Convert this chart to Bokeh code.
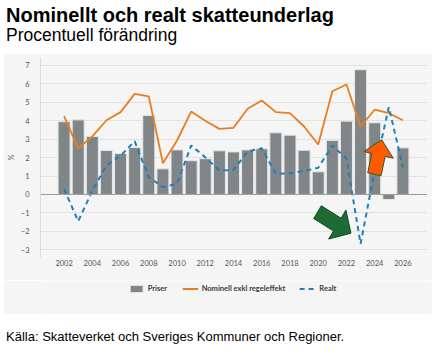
import math
from bokeh.plotting import figure
from bokeh.models import Range1d, FixedTicker, Legend, LegendItem, Span, Div
from bokeh.layouts import column
from bokeh.embed import file_html
from bokeh.resources import INLINE

# ---------------- data ----------------
TITLE = "Nominellt och realt skatteunderlag"
SUBTITLE = "Procentuell förändring"
SOURCE = "Källa: Skatteverket och Sveriges Kommuner och Regioner."
Y_LABEL = "%"

years = list(range(2002, 2027))
priser = [3.95, 4.05, 3.15, 2.39, 2.22, 2.55, 4.29, 1.39, 2.42, 1.83, 1.94, 2.37, 2.31,
          2.42, 2.48, 3.35, 3.22, 2.40, 1.23, 2.93, 3.98, 6.77, 3.89, -0.27, 2.53]
nominell = [4.25, 2.50, 3.15, 4.03, 4.47, 5.46, 5.32, 1.70, 2.93, 4.50, 4.00, 3.56, 3.62,
            4.65, 5.10, 4.47, 4.42, 3.69, 2.71, 5.60, 5.97, 3.69, 4.60, 4.41, 4.03]
realt = [0.30, -1.45, 0.20, 1.57, 2.10, 2.89, 0.94, 0.40, 0.58, 2.66, 2.02, 1.30, 1.33,
         2.33, 2.51, 1.12, 1.15, 1.27, 1.45, 2.66, 1.94, -2.68, 1.30, 4.74, 1.48]
series_labels = ["Priser", "Nominell exkl regeleffekt", "Realt"]
x_ticks = list(range(2002, 2027, 2))
y_ticks = list(range(-3, 8))

# annotation arrows (tail -> tip, in data units)
green_arrow = ((2019.95, -0.96), (2022.32, -2.10))
orange_arrow = ((2023.98, 1.10), (2024.50, 2.97))

# ---------------- style / layout ----------------
PANEL = "#f5f5f5"
BAR = "#808587"
ORANGE = "#ea7d1e"
BLUE = "#1f80b6"
TEXT = "#555555"
FONT = "Lato"

FIG_W, FIG_H = 429, 227
MIN_L, MIN_R, MIN_T, MIN_B = 26, 5, 4, 23
X0, X1 = 2000.33, 2027.74
Y0, Y1 = -3.42, 7.434

p = figure(width=FIG_W, height=FIG_H, x_range=Range1d(X0, X1), y_range=Range1d(Y0, Y1),
           output_backend="svg", toolbar_location=None,
           min_border_left=MIN_L, min_border_right=MIN_R,
           min_border_top=MIN_T, min_border_bottom=MIN_B, margin=(0, 0, 0, 3))
p.background_fill_color = PANEL
p.border_fill_color = PANEL
p.outline_line_color = None

p.xgrid.grid_line_color = None
p.ygrid.grid_line_color = "#e2e2e2"
p.ygrid.grid_line_width = 1

p.xaxis.ticker = FixedTicker(ticks=x_ticks, minor_ticks=[])
p.yaxis.ticker = FixedTicker(ticks=y_ticks, minor_ticks=[])
for ax in (p.xaxis, p.yaxis):
    ax.major_tick_line_color = None
    ax.minor_tick_line_color = None
    ax.major_label_text_font = FONT
    ax.major_label_text_font_size = "7.5px"
    ax.major_label_text_color = TEXT
p.xaxis.axis_line_color = None
p.xaxis.major_tick_out = 0
p.xaxis.major_tick_in = 0
p.xaxis.minor_tick_out = 0
p.xaxis.major_label_standoff = 2
p.yaxis.axis_line_color = "#dcdcdc"
p.yaxis.major_label_standoff = 5
p.yaxis.axis_label = Y_LABEL
p.yaxis.axis_label_text_font = FONT
p.yaxis.axis_label_text_font_size = "7.5px"
p.yaxis.axis_label_text_font_style = "normal"
p.yaxis.axis_label_text_color = TEXT
p.yaxis.axis_label_standoff = 2

p.vbar(x=years, top=priser, bottom=0, width=0.85, fill_color=BAR,
       line_color="#e6e6e6", line_width=1)
p.add_layout(Span(location=0, dimension="width", line_color="#9c9c9c", line_width=1))
p.line(years, nominell, line_color=ORANGE, line_width=1.8)
p.line(years, realt, line_color=BLUE, line_width=2, line_dash="5 4")

# block arrows: geometry computed in pixel space, converted to data units
frame_w = FIG_W - MIN_L - MIN_R
frame_h = FIG_H - MIN_T - MIN_B
sx = frame_w / (X1 - X0)
sy = frame_h / (Y1 - Y0)


def block_arrow(tail, tip, shaft_w=14.5, head_w=32, head_len=16):
    tx, ty = tail[0] * sx, tail[1] * sy
    hx, hy = tip[0] * sx, tip[1] * sy
    dx, dy = hx - tx, hy - ty
    L = math.hypot(dx, dy)
    ux, uy = dx / L, dy / L
    nx, ny = -uy, ux
    bx, by = hx - ux * head_len, hy - uy * head_len
    pts = [(tx + nx * shaft_w / 2, ty + ny * shaft_w / 2),
           (bx + nx * shaft_w / 2, by + ny * shaft_w / 2),
           (bx + nx * head_w / 2, by + ny * head_w / 2),
           (hx, hy),
           (bx - nx * head_w / 2, by - ny * head_w / 2),
           (bx - nx * shaft_w / 2, by - ny * shaft_w / 2),
           (tx - nx * shaft_w / 2, ty - ny * shaft_w / 2)]
    return [q[0] / sx for q in pts], [q[1] / sy for q in pts]


gx, gy = block_arrow(*green_arrow, shaft_w=15, head_w=34, head_len=16.5)
p.patch(gx, gy, fill_color="#1f6b34", line_color="#134a22", line_width=1)
ox, oy = block_arrow(*orange_arrow, shaft_w=14, head_w=31, head_len=15.5)
p.patch(ox, oy, fill_color="#ff5a00", line_color="#2f5a22", line_width=1)

# ---------------- legend strip (same panel colour, directly below) ----------------
LG_H = 34
lg = figure(width=FIG_W, height=LG_H, x_range=Range1d(0, 1), y_range=Range1d(0, 1),
            output_backend="svg", toolbar_location=None,
            min_border_left=MIN_L, min_border_right=MIN_R, min_border_top=0,
            min_border_bottom=0, margin=(0, 0, 0, 3))
lg.background_fill_color = PANEL
lg.border_fill_color = PANEL
lg.outline_line_color = None
lg.axis.visible = False
lg.grid.visible = False
# key renderers: one sample each, placed outside the visible range
k_bar = lg.vbar(x=[5], top=[6], bottom=5, width=0.85, fill_color=BAR,
                line_color="#e6e6e6", line_width=1)
k_nom = lg.line(x=[5, 6], y=[5, 5], line_color=ORANGE, line_width=1.8)
k_real = lg.line(x=[5, 6], y=[5, 5], line_color=BLUE, line_width=2, line_dash="5 4")

legend = Legend(items=[LegendItem(label=series_labels[0], renderers=[k_bar]),
                       LegendItem(label=series_labels[1], renderers=[k_nom]),
                       LegendItem(label=series_labels[2], renderers=[k_real])],
                orientation="horizontal", location="top_center")
legend.label_text_font = FONT
legend.label_text_font_size = "7.5px"
legend.label_text_font_style = "bold"
legend.label_text_color = "#3a3a3a"
legend.glyph_width = 16
legend.glyph_height = 9
legend.label_height = 9
legend.label_standoff = 4
legend.spacing = 14
legend.padding = 4
legend.margin = 4
legend.border_line_color = None
legend.background_fill_alpha = 0
lg.add_layout(legend, "center")

title_div = Div(
    text=(f"<div style='font-family:\"Liberation Sans\",Arial,sans-serif;font-weight:bold;"
          f"font-size:20px;line-height:20px;padding-top:5px;color:#000;white-space:nowrap'>{TITLE}</div>"
          f"<div style='font-family:\"Liberation Sans\",Arial,sans-serif;"
          f"font-size:17.5px;line-height:17px;padding-top:2px;color:#000;white-space:nowrap'>{SUBTITLE}</div>"),
    width=432, height=53, margin=(0, 0, 0, 6))
source_div = Div(
    text=(f"<div style='font-family:\"Liberation Sans\",Arial,sans-serif;font-size:13px;"
          f"line-height:13px;padding-top:16px;color:#000;white-space:nowrap'>{SOURCE}</div>"),
    width=432, height=39, margin=(0, 0, 0, 6))

layout = column(title_div, p, lg, source_div, spacing=0, margin=0)
open("out.html", "w").write(file_html(layout, INLINE))
